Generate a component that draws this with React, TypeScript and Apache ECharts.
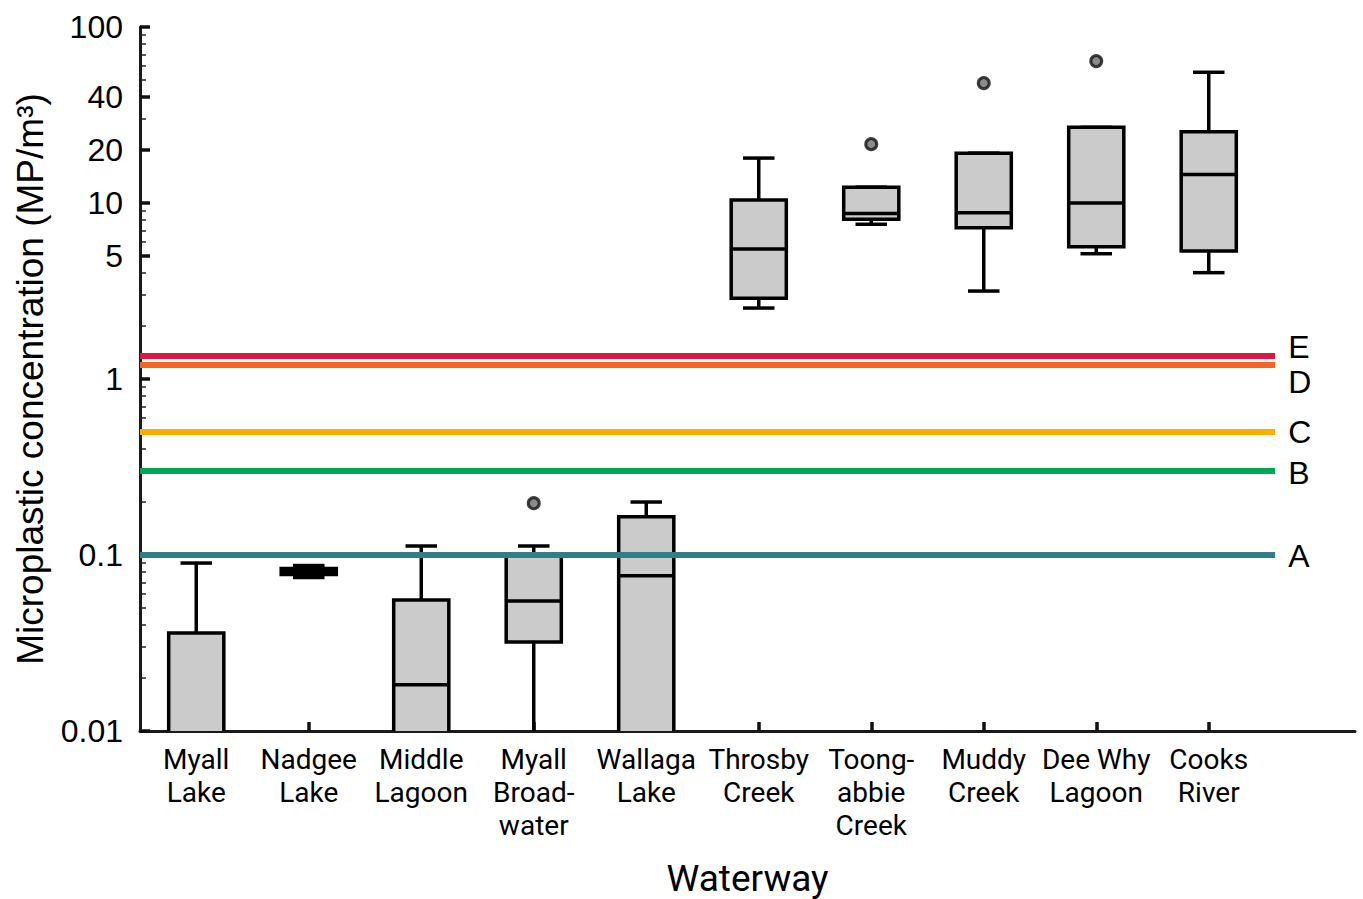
import React, { useEffect, useRef } from "react";
import * as echarts from "echarts";

const categories = [
  "Myall\nLake",
  "Nadgee\nLake",
  "Middle\nLagoon",
  "Myall\nBroad-\nwater",
  "Wallaga\nLake",
  "Throsby\nCreek",
  "Toong-\nabbie\nCreek",
  "Muddy\nCreek",
  "Dee Why\nLagoon",
  "Cooks\nRiver",
];
// values below 0.01 lie under the axis (not visible in the figure)
const whiskerLow = [0.005, 0.0745, 0.005, 0.005, 0.005, 2.53, 7.57, 3.16, 5.15, 4.02];
const quartile1 = [0.005, 0.0775, 0.005, 0.032, 0.005, 2.88, 8.08, 7.24, 5.65, 5.34];
const medians = [0.005, 0.0806, 0.0183, 0.0548, 0.0762, 5.48, 8.73, 8.81, 10.0, 14.5];
const quartile3 = [0.036, 0.0838, 0.0555, 0.0985, 0.165, 10.4, 12.3, 19.2, 26.9, 25.4];
const whiskerHigh = [0.09, 0.0871, 0.1125, 0.1125, 0.2, 18.0, 12.3, 19.2, 26.9, 55.3];

const outlierCategory = [4, 7, 8, 9];
const outlierValues = [0.197, 21.6, 48, 64];

const thresholdLabels = ["A", "B", "C", "D", "E"];
const thresholdValues = [0.1, 0.3, 0.5, 1.2, 1.35];
const thresholdColors = ["#2e7f8a", "#00a651", "#f9b000", "#f26522", "#dc1840"];

const majorTicks = [0.01, 0.1, 1, 5, 10, 20, 40, 100];
const minorTicks = [
  0.02, 0.03, 0.04, 0.05, 0.06, 0.07, 0.08, 0.09,
  0.2, 0.3, 0.4, 0.5, 0.6, 0.7, 0.8, 0.9,
  2, 3, 4, 6, 7, 8, 9,
  30, 50, 60, 70, 80, 90,
];
const categoryPositions = [1, 2, 3, 4, 5, 6, 7, 8, 9, 10];

export default function App() {
  const ref = useRef<HTMLDivElement>(null);

  useEffect(() => {
    if (!ref.current) return;
    const chart = echarts.init(ref.current, null, { renderer: "svg" });

    const boxData = categories.map((_, i) => [
      i + 1,
      whiskerLow[i],
      quartile1[i],
      medians[i],
      quartile3[i],
      whiskerHigh[i],
    ]);
    const outlierData = outlierCategory.map((c, i) => [c, outlierValues[i]]);

    const labelOffsets: Record<string, number[]> = {
      A: [0, 1],
      B: [0, 2],
      C: [0, 0],
      D: [0, 17],
      E: [0, -9],
    };

    const thresholdSeries = thresholdLabels.map((lab, i) => ({
      type: "line",
      name: lab,
      xAxisIndex: 0,
      yAxisIndex: 0,
      z: 5,
      silent: true,
      symbol: "none",
      data: [
        [0.5, thresholdValues[i]],
        [10.59, thresholdValues[i]],
      ],
      lineStyle: { color: thresholdColors[i], width: 6 },
      endLabel: {
        show: true,
        formatter: lab,
        distance: 13,
        offset: labelOffsets[lab],
        fontSize: 32,
        fontFamily: "Liberation Sans, Arial, sans-serif",
        color: "#000",
      },
    }));

    const fmt = (v: number) => String(+Number(v).toPrecision(6));

    const option: any = {
      animation: false,
      grid: {
        left: 140,
        right: 8,
        top: 27,
        bottom: 168,
        containLabel: false,
        outerBoundsMode: "none",
      },
      xAxis: {
        type: "value",
        min: 0.5,
        max: 11.3,
        position: "bottom",
        axisLine: { show: true, onZero: false, lineStyle: { color: "#1a1a1a", width: 3 } },
        axisTick: {
          show: true,
          inside: true,
          length: 9,
          customValues: categoryPositions,
          lineStyle: { color: "#111", width: 3.5 },
        },
        axisLabel: {
          customValues: categoryPositions,
          formatter: (v: number) => categories[Math.round(v) - 1] ?? "",
          fontSize: 28,
          lineHeight: 33,
          fontFamily: "Roboto, Arial, sans-serif",
          color: "#000",
          margin: 12,
        },
        splitLine: { show: false },
        name: "Waterway",
        nameLocation: "middle",
        nameGap: 129,
        nameTextStyle: {
          fontSize: 37,
          fontFamily: "Roboto, Arial, sans-serif",
          color: "#000",
          verticalAlign: "top",
        },
      },
      yAxis: [
        {
          type: "log",
          logBase: 10,
          min: 0.01,
          max: 100,
          position: "left",
          axisLine: { show: true, onZero: false, lineStyle: { color: "#1a1a1a", width: 3 } },
          axisTick: {
            show: true,
            inside: true,
            length: 10,
            customValues: majorTicks,
            lineStyle: { color: "#111", width: 3.5 },
          },
          minorTick: { show: false },
          axisLabel: {
            customValues: majorTicks,
            formatter: (v: number) => fmt(v),
            fontSize: 32,
            fontFamily: "Liberation Sans, Arial, sans-serif",
            color: "#000",
            margin: 17,
          },
          splitLine: { show: false },
          name: "Microplastic concentration (MP/m³)",
          nameLocation: "middle",
          nameGap: 91,
          nameTextStyle: {
            fontSize: 37,
            fontFamily: "Liberation Sans, Arial, sans-serif",
            color: "#000",
          },
        },
        {
          type: "log",
          logBase: 10,
          min: 0.01,
          max: 100,
          position: "left",
          axisLine: { show: false },
          axisTick: {
            show: true,
            inside: true,
            length: 6,
            customValues: minorTicks,
            lineStyle: { color: "#222", width: 1.5 },
          },
          axisLabel: { show: false },
          splitLine: { show: false },
        },
      ],
      series: [
        {
          type: "custom",
          name: "box",
          xAxisIndex: 0,
          yAxisIndex: 0,
          clip: true,
          z: 3,
          encode: { x: 0, y: [1, 2, 3, 4, 5] },
          data: boxData,
          renderItem: (params: any, api: any) => {
            const x = api.value(0);
            const band = api.size([1, 0])[0];
            const half = band * 0.245;
            const capHalf = band * 0.14;
            const pMin = api.coord([x, api.value(1)]);
            const pQ1 = api.coord([x, api.value(2)]);
            const pMed = api.coord([x, api.value(3)]);
            const pQ3 = api.coord([x, api.value(4)]);
            const pMax = api.coord([x, api.value(5)]);
            const cx = pMed[0];
            const stroke = { stroke: "#000", lineWidth: 3.5 };
            return {
              type: "group",
              children: [
                {
                  type: "line",
                  shape: { x1: cx, y1: pQ3[1], x2: cx, y2: pMax[1] },
                  style: stroke,
                },
                {
                  type: "line",
                  shape: { x1: cx, y1: pQ1[1], x2: cx, y2: pMin[1] },
                  style: stroke,
                },
                {
                  type: "line",
                  shape: { x1: cx - capHalf, y1: pMax[1], x2: cx + capHalf, y2: pMax[1] },
                  style: stroke,
                },
                {
                  type: "line",
                  shape: { x1: cx - capHalf, y1: pMin[1], x2: cx + capHalf, y2: pMin[1] },
                  style: stroke,
                },
                {
                  type: "rect",
                  shape: { x: cx - half, y: pQ3[1], width: half * 2, height: pQ1[1] - pQ3[1] },
                  style: { fill: "#cbcbcb", stroke: "#000", lineWidth: 3.5 },
                },
                {
                  type: "line",
                  shape: { x1: cx - half, y1: pMed[1], x2: cx + half, y2: pMed[1] },
                  style: stroke,
                },
              ],
            };
          },
        },
        {
          type: "scatter",
          name: "outliers",
          xAxisIndex: 0,
          yAxisIndex: 0,
          z: 4,
          symbol: "circle",
          symbolSize: 11,
          data: outlierData,
          itemStyle: { color: "#6e6e6e", borderColor: "#111", borderWidth: 3 },
        },
        ...thresholdSeries,
      ],
    };

    chart.setOption(option);
    return () => chart.dispose();
  }, []);

  return (
    <div
      ref={ref}
      style={{ position: "fixed", left: 0, top: 0, width: 1363, height: 899, background: "#fff" }}
    />
  );
}
